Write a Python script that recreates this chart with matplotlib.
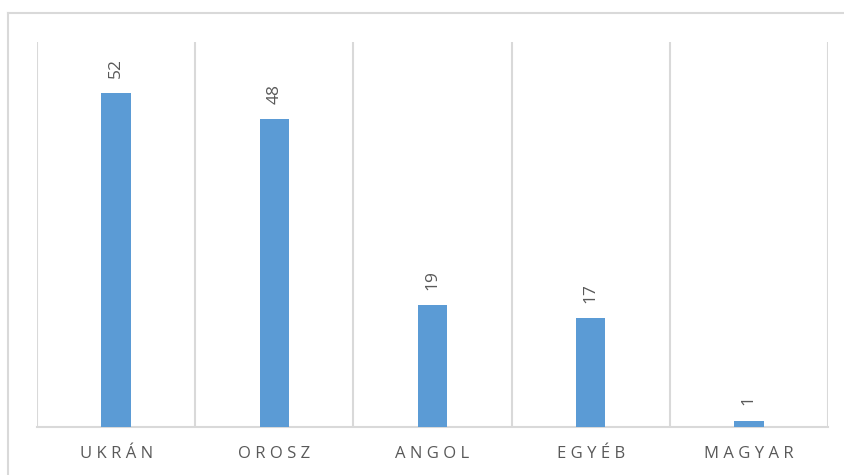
import matplotlib.pyplot as plt
from matplotlib.lines import Line2D

categories = ['UKRÁN', 'OROSZ', 'ANGOL', 'EGYÉB', 'MAGYAR']
values = [52, 48, 19, 17, 1]

plt.rcParams['font.family'] = ['Open Sans', 'DejaVu Sans']

fig = plt.figure(figsize=(8.44, 4.75), dpi=100)
ax = fig.add_axes([37 / 844, 48 / 475, 791 / 844, 385 / 475])

x = list(range(len(categories)))
ax.bar(x, values, width=0.185, color='#5B9BD5', zorder=3)

for i, v in zip(x, values):
    ax.annotate(str(v), (i, v), textcoords='offset points', xytext=(0, 11),
                rotation=90, ha='center', va='bottom', fontsize=12.5, color='#595959')

ax.set_xlim(-0.5, len(categories) - 0.5)
ax.set_ylim(0, 60)

# vertical separators between categories
for b in [k - 0.5 for k in range(len(categories) + 1)]:
    ax.axvline(b, color='#D9D9D9', lw=1.5, zorder=1)

for s in ['top', 'left', 'right']:
    ax.spines[s].set_visible(False)
ax.spines['bottom'].set_color('#D9D9D9')
ax.spines['bottom'].set_linewidth(1.5)

ax.set_yticks([])
ax.set_xticks(x)
ax.set_xticklabels([' '.join(c) for c in categories], fontsize=12, color='#595959')
ax.tick_params(axis='x', length=0, pad=14)

# chart border (left and top visible)
fig.add_artist(Line2D([8 / 844, 8 / 844], [0, 1 - 13 / 475], color='#D9D9D9', lw=1.5))
fig.add_artist(Line2D([8 / 844, 1], [1 - 13 / 475, 1 - 13 / 475], color='#D9D9D9', lw=1.5))

fig.savefig('out.png', dpi=100)
